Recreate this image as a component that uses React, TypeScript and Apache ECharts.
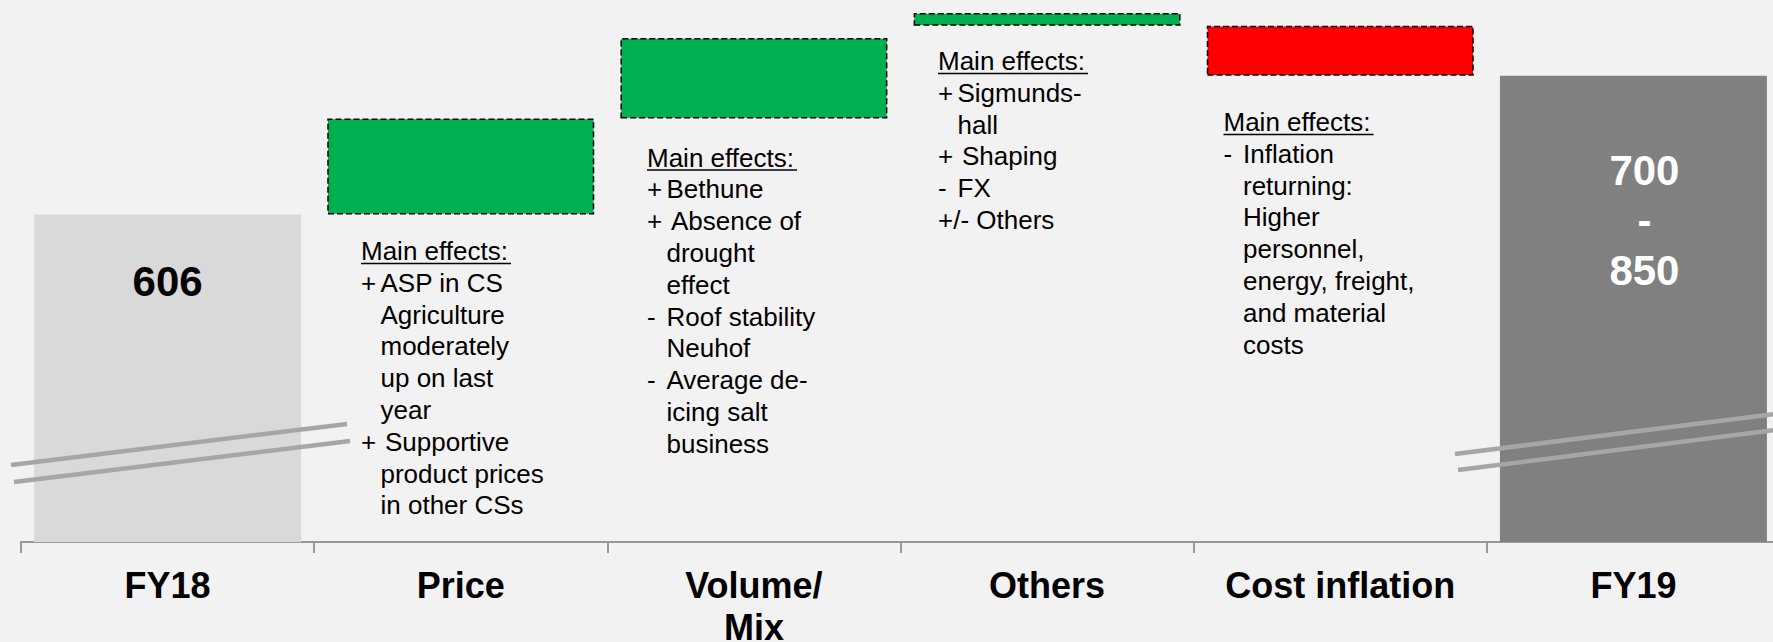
import React, { useEffect, useRef } from 'react';
import * as echarts from 'echarts';

// ---- data (schematic waterfall) ----
const categories = ['FY18', 'Price', 'Volume/\nMix', 'Others', 'Cost inflation', 'FY19'];
const barStart = [0, 606, 725, 840, 840, 0];
const barEnd = [606, 725, 825, 856, 778, 778];
const barKinds = ['total', 'up', 'up', 'up', 'down', 'total'];
const valueLabels = ['606', '', '', '', '', '700\n-\n850'];

const priceNotes = [
  '+|ASP in CS', '|Agriculture', '|moderately', '|up on last', '|year',
  '+ |Supportive', '|product prices', '|in other CSs',
];
const volumeNotes = [
  '+|Bethune', '+ |Absence of', '|drought', '|effect', '-|Roof stability',
  '|Neuhof', '-|Average de-', '|icing salt', '|business',
];
const othersNotes = ['+|Sigmunds-', '|hall', '+ |Shaping', '-|FX', '+/- Others'];
const costNotes = [
  '-|Inflation', '|returning:', '|Higher', '|personnel,', '|energy, freight,',
  '|and material', '|costs',
];
const notesHeading = 'Main effects:';

// ---- styles / layout ----
const FONT = '"Liberation Sans", Arial, Helvetica, sans-serif';
const BG = '#f2f2f2';
const LINE_H = 31.8;
const NOTE_SIZE = 26;

function noteBlock(x: number, y: number, lines: string[]) {
  const els: any[] = [];
  els.push({
    type: 'text', x, y, z: 100,
    style: { text: notesHeading, fontSize: NOTE_SIZE, fontFamily: FONT, fill: '#000', align: 'left', verticalAlign: 'middle' },
  });
  els.push({
    type: 'line', z: 100,
    shape: { x1: x, y1: y + 12.5, x2: x + 150, y2: y + 12.5 },
    style: { stroke: '#000', lineWidth: 1.5 },
  });
  lines.forEach((ln, i) => {
    const ly = y + (i + 1) * LINE_H;
    const idx = ln.indexOf('|');
    if (idx < 0) {
      els.push({ type: 'text', x, y: ly, z: 100, style: { text: ln, fontSize: NOTE_SIZE, fontFamily: FONT, fill: '#000', align: 'left', verticalAlign: 'middle' } });
      return;
    }
    const pre = ln.slice(0, idx);
    const body = ln.slice(idx + 1);
    const indent = pre.endsWith(' ') ? 24 : 19.5;
    if (pre.trim()) {
      els.push({ type: 'text', x, y: ly, z: 100, style: { text: pre.trim(), fontSize: NOTE_SIZE, fontFamily: FONT, fill: '#000', align: 'left', verticalAlign: 'middle' } });
    }
    els.push({ type: 'text', x: x + indent, y: ly, z: 100, style: { text: body, fontSize: NOTE_SIZE, fontFamily: FONT, fill: '#000', align: 'left', verticalAlign: 'middle' } });
  });
  return els;
}

export default function App() {
  const ref = useRef<HTMLDivElement>(null);
  useEffect(() => {
    if (!ref.current) return;
    const chart = echarts.init(ref.current, undefined, { renderer: 'svg' });

    const baseData = barKinds.map((k, i) => (k === 'total' ? '-' : Math.min(barStart[i], barEnd[i])));
    const totalData = barKinds.map((k, i) => {
      if (k !== 'total') return '-';
      const isFirst = i === 0;
      return {
        value: barEnd[i],
        itemStyle: { color: isFirst ? '#d9d9d9' : '#808080' },
        label: {
          show: true,
          formatter: valueLabels[i],
          position: 'insideTop',
          distance: isFirst ? 42 : 70,
          offset: isFirst ? [0, 0] : [11, 0],
          fontSize: 42,
          lineHeight: 50,
          fontWeight: 'bold',
          fontFamily: FONT,
          color: isFirst ? '#000' : '#fff',
        },
      };
    });
    const upData = barKinds.map((k, i) => (k === 'up' ? barEnd[i] - barStart[i] : '-'));
    const downData = barKinds.map((k, i) => (k === 'down' ? barStart[i] - barEnd[i] : '-'));

    const deltaStyle = { borderColor: '#000', borderWidth: 1.5, borderType: [6, 3] };

    const option: any = {
      animation: false,
      backgroundColor: BG,
      grid: { left: 21, top: 0, width: 1759, bottom: 100, containLabel: false, outerBoundsMode: 'none' },
      xAxis: {
        type: 'category',
        data: categories,
        axisLine: { lineStyle: { color: '#999999', width: 2 } },
        axisTick: { show: true, length: 11, lineStyle: { color: '#999999', width: 2 } },
        axisLabel: {
          interval: 0, margin: 22, fontSize: 36, lineHeight: 42, fontWeight: 'bold',
          fontFamily: FONT, color: '#000',
        },
      },
      yAxis: {
        type: 'value', min: 200, max: 872, show: false,
        splitLine: { show: false },
      },
      series: [
        { name: 'base', type: 'bar', stack: 'wf', barWidth: 267, data: baseData, itemStyle: { color: 'transparent' }, silent: true },
        { name: 'total', type: 'bar', stack: 'wf', barWidth: 267, data: totalData },
        { name: 'increase', type: 'bar', stack: 'wf', barWidth: 267, data: upData, itemStyle: { color: '#00b050', ...deltaStyle } },
        { name: 'decrease', type: 'bar', stack: 'wf', barWidth: 267, data: downData, itemStyle: { color: '#ff0000', ...deltaStyle } },
      ],
      graphic: [
        // axis break marks
        { type: 'line', z: 100, shape: { x1: 11, y1: 465, x2: 347, y2: 424 }, style: { stroke: '#a6a6a6', lineWidth: 4.5 } },
        { type: 'line', z: 100, shape: { x1: 14, y1: 482, x2: 350, y2: 441 }, style: { stroke: '#a6a6a6', lineWidth: 4.5 } },
        { type: 'line', z: 100, shape: { x1: 1455, y1: 454, x2: 1775, y2: 414 }, style: { stroke: '#a6a6a6', lineWidth: 4.5 } },
        { type: 'line', z: 100, shape: { x1: 1458, y1: 470, x2: 1775, y2: 430 }, style: { stroke: '#a6a6a6', lineWidth: 4.5 } },
        ...noteBlock(361, 251, priceNotes),
        ...noteBlock(647, 157.5, volumeNotes),
        ...noteBlock(938, 61, othersNotes),
        ...noteBlock(1223.5, 122, costNotes),
      ],
    };
    chart.setOption(option);
    return () => chart.dispose();
  }, []);
  return <div ref={ref} style={{ position: 'absolute', left: 0, top: 0, width: 1773, height: 642 }} />;
}
